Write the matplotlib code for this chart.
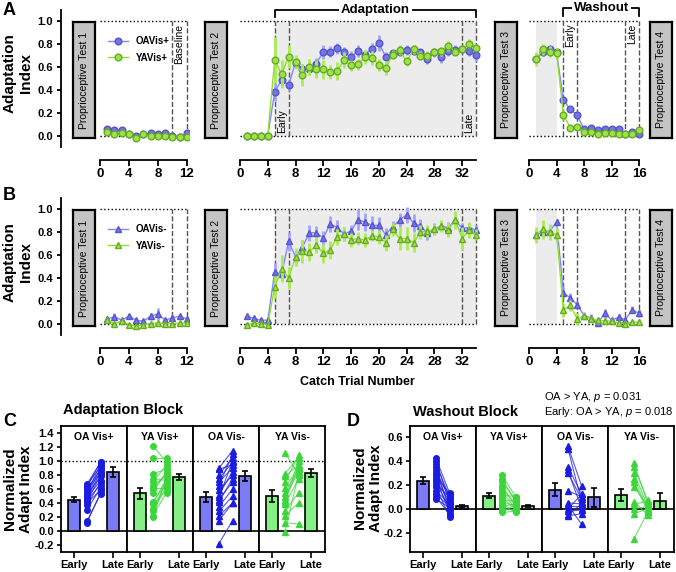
import matplotlib.pyplot as plt
from matplotlib.lines import Line2D

plt.rcParams['font.family'] = ['Liberation Sans', 'DejaVu Sans']
plt.rcParams['font.weight'] = 'bold'
plt.rcParams['mathtext.fontset'] = 'custom'
plt.rcParams['mathtext.it'] = 'Liberation Sans:italic:weight=normal'
plt.rcParams['mathtext.rm'] = 'Liberation Sans:weight=normal'

W, H = 676, 572

# catch trial numbers in each block
base_trials = [1, 2, 3, 4, 5, 6, 7, 8, 9, 10, 11, 12]
adapt_trials = list(range(1, 35))
wash_trials = list(range(1, 17))

# Panel A (Vis+), mean adaptation index and SEM
a_oa_base = [0.06, 0.05, 0.05, 0.01, 0.00, 0.01, 0.02, 0.01, 0.02, 0.00, -0.01, 0.02]
a_oa_base_err = [0.02, 0.01, 0.02, 0.01, 0.01, 0.01, 0.01, 0.01, 0.01, 0.01, 0.01, 0.02]
a_ya_base = [0.03, 0.01, 0.02, 0.01, -0.02, 0.01, 0.00, 0.00, 0.00, -0.01, -0.01, -0.01]
a_ya_base_err = [0.02, 0.01, 0.01, 0.01, 0.01, 0.01, 0.01, 0.01, 0.01, 0.01, 0.01, 0.01]

a_oa_adapt = [0.00, 0.00, 0.00, 0.00, 0.38, 0.49, 0.44, 0.64, 0.58, 0.585, 0.63, 0.735,
              0.735, 0.765, 0.73, 0.69, 0.74, 0.71, 0.76, 0.81, 0.69, 0.72, 0.735, 0.75,
              0.74, 0.73, 0.67, 0.73, 0.69, 0.74, 0.75, 0.755, 0.74, 0.705]
a_oa_adapt_err = [0.01, 0.01, 0.01, 0.01, 0.08, 0.06, 0.05, 0.05, 0.05, 0.05, 0.05, 0.06,
                  0.05, 0.05, 0.05, 0.05, 0.05, 0.04, 0.05, 0.07, 0.04, 0.03, 0.03, 0.04,
                  0.03, 0.03, 0.04, 0.04, 0.05, 0.04, 0.04, 0.03, 0.04, 0.05]
a_ya_adapt = [0.00, 0.00, 0.00, 0.00, 0.66, 0.54, 0.69, 0.645, 0.53, 0.60, 0.585, 0.58,
              0.555, 0.565, 0.66, 0.615, 0.625, 0.69, 0.68, 0.62, 0.595, 0.71, 0.75, 0.65,
              0.755, 0.70, 0.70, 0.735, 0.74, 0.785, 0.735, 0.76, 0.805, 0.77]
a_ya_adapt_err = [0.01, 0.01, 0.01, 0.01, 0.20, 0.12, 0.10, 0.06, 0.10, 0.07, 0.08, 0.08,
                  0.06, 0.08, 0.07, 0.05, 0.05, 0.06, 0.06, 0.05, 0.06, 0.04, 0.04, 0.04,
                  0.04, 0.04, 0.04, 0.03, 0.04, 0.04, 0.03, 0.03, 0.04, 0.03]

a_oa_wash = [0.67, 0.73, 0.755, 0.73, 0.31, 0.23, 0.18, 0.055, 0.065, 0.045, 0.055, 0.055,
             0.055, 0.01, 0.035, 0.015]
a_oa_wash_err = [0.03, 0.03, 0.03, 0.03, 0.03, 0.02, 0.02, 0.02, 0.02, 0.02, 0.02, 0.02,
                 0.02, 0.01, 0.02, 0.02]
a_ya_wash = [0.67, 0.755, 0.735, 0.72, 0.18, 0.07, 0.075, 0.035, 0.035, 0.01, 0.025, 0.02,
             0.015, 0.01, 0.01, 0.045]
a_ya_wash_err = [0.06, 0.05, 0.05, 0.05, 0.04, 0.02, 0.02, 0.02, 0.02, 0.01, 0.01, 0.01,
                 0.01, 0.01, 0.01, 0.02]

# Panel B (Vis-)
b_oa_base = [0.04, 0.06, 0.03, 0.065, 0.03, 0.02, 0.065, 0.085, 0.03, 0.05, 0.065, 0.04]
b_oa_base_err = [0.02, 0.03, 0.02, 0.02, 0.02, 0.02, 0.03, 0.05, 0.02, 0.03, 0.02, 0.02]
b_ya_base = [0.03, 0.00, 0.02, -0.01, -0.02, -0.01, 0.00, 0.005, 0.00, 0.00, 0.005, 0.005]
b_ya_base_err = [0.02, 0.01, 0.01, 0.01, 0.01, 0.01, 0.01, 0.01, 0.01, 0.01, 0.01, 0.01]

b_oa_adapt = [0.065, 0.045, 0.03, 0.03, 0.45, 0.43, 0.72, 0.585, 0.67, 0.795, 0.795, 0.75,
              0.875, 0.84, 0.785, 0.81, 0.91, 0.89, 0.86, 0.86, 0.78, 0.85, 0.905, 0.955,
              0.88, 0.855, 0.795, 0.83, 0.855, 0.84, 0.905, 0.835, 0.84, 0.82]
b_oa_adapt_err = [0.02, 0.02, 0.02, 0.02, 0.08, 0.06, 0.08, 0.06, 0.06, 0.07, 0.06, 0.06,
                  0.07, 0.07, 0.06, 0.05, 0.09, 0.08, 0.08, 0.07, 0.06, 0.05, 0.06, 0.07,
                  0.08, 0.06, 0.06, 0.05, 0.04, 0.05, 0.05, 0.05, 0.04, 0.04]
b_ya_adapt = [-0.01, 0.005, 0.00, -0.01, 0.32, 0.48, 0.40, 0.585, 0.635, 0.63, 0.685, 0.615,
              0.645, 0.76, 0.785, 0.735, 0.745, 0.73, 0.77, 0.76, 0.71, 0.825, 0.745, 0.745,
              0.71, 0.80, 0.81, 0.825, 0.855, 0.82, 0.91, 0.745, 0.82, 0.78]
b_ya_adapt_err = [0.02, 0.02, 0.02, 0.02, 0.10, 0.12, 0.10, 0.08, 0.10, 0.08, 0.07, 0.08,
                  0.08, 0.07, 0.06, 0.06, 0.06, 0.06, 0.05, 0.06, 0.07, 0.06, 0.10, 0.10,
                  0.08, 0.06, 0.05, 0.05, 0.05, 0.06, 0.08, 0.10, 0.07, 0.05]

b_oa_wash = [0.78, 0.80, 0.81, 0.89, 0.27, 0.225, 0.165, 0.07, 0.05, 0.005, 0.09, 0.03,
             0.055, 0.035, 0.12, 0.09]
b_oa_wash_err = [0.04, 0.04, 0.04, 0.03, 0.05, 0.04, 0.03, 0.03, 0.03, 0.02, 0.04, 0.02,
                 0.03, 0.02, 0.03, 0.03]
b_ya_wash = [0.78, 0.825, 0.80, 0.78, 0.12, 0.16, 0.04, 0.07, 0.04, 0.03, 0.025, 0.02,
             0.005, 0.00, 0.01, 0.015]
b_ya_wash_err = [0.07, 0.08, 0.07, 0.06, 0.06, 0.05, 0.05, 0.03, 0.03, 0.03, 0.02, 0.02,
                 0.02, 0.02, 0.02, 0.02]

# Panels C and D
group_names = ['OA Vis+', 'YA Vis+', 'OA Vis-', 'YA Vis-']

c_mean_early = [0.45, 0.54, 0.49, 0.50]
c_mean_late = [0.84, 0.77, 0.79, 0.83]
c_err_early = [0.04, 0.08, 0.07, 0.08]
c_err_late = [0.07, 0.04, 0.07, 0.06]
c_oa_plus_early = [0.67, 0.66, 0.63, 0.60, 0.58, 0.55, 0.52, 0.50, 0.48, 0.46, 0.44, 0.42, 0.40, 0.37, 0.30, 0.14, 0.12]
c_oa_plus_late = [0.98, 0.92, 0.99, 0.88, 0.83, 0.95, 0.78, 0.90, 0.72, 0.85, 0.66, 0.80, 0.58, 0.70, 0.62, 0.53, 0.55]
c_ya_plus_early = [1.22, 1.05, 0.82, 0.75, 0.70, 0.65, 0.62, 0.60, 0.55, 0.42, 0.40, 0.38, 0.32, 0.28, 0.22, 0.20]
c_ya_plus_late = [0.98, 1.05, 0.88, 0.72, 0.95, 0.80, 0.62, 0.82, 0.85, 0.68, 0.75, 0.58, 0.70, 0.65, 0.55, 0.78]
c_oa_minus_early = [0.90, 0.88, 0.80, 0.75, 0.70, 0.65, 0.58, 0.52, 0.48, 0.45, 0.42, 0.35, 0.28, 0.22, 0.15, -0.18]
c_oa_minus_late = [1.15, 0.95, 1.05, 0.98, 0.90, 1.10, 0.80, 0.85, 1.00, 0.70, 0.75, 0.60, 0.50, 0.40, 0.40, 0.15]
c_ya_minus_early = [1.12, 0.82, 0.78, 0.70, 0.62, 0.55, 0.48, 0.45, 0.42, 0.38, 0.28, 0.22, 0.12, -0.02]
c_ya_minus_late = [0.80, 1.05, 0.95, 1.08, 0.90, 0.88, 0.85, 1.00, 0.92, 0.75, 0.55, 0.40, 0.10, 0.82]

d_mean_early = [0.235, 0.11, 0.16, 0.115]
d_mean_late = [0.02, 0.025, 0.095, 0.065]
d_err_early = [0.03, 0.02, 0.055, 0.05]
d_err_late = [0.015, 0.01, 0.08, 0.07]
d_oa_plus_early = [0.42, 0.40, 0.37, 0.35, 0.32, 0.30, 0.28, 0.26, 0.24, 0.22, 0.20, 0.18, 0.15, 0.12, 0.10, 0.08]
d_oa_plus_late = [0.13, 0.05, 0.10, -0.02, 0.08, 0.02, 0.12, -0.04, 0.06, 0.00, 0.10, -0.07, 0.04, 0.02, -0.05, 0.01]
d_ya_plus_early = [0.28, 0.25, 0.22, 0.19, 0.17, 0.15, 0.12, 0.10, 0.08, 0.06, 0.04, 0.02, 0.00, -0.02, -0.03]
d_ya_plus_late = [0.10, 0.06, 0.08, 0.02, 0.04, 0.00, 0.10, -0.01, 0.06, 0.02, -0.03, 0.04, 0.00, 0.03, -0.02]
d_oa_minus_early = [0.52, 0.50, 0.35, 0.32, 0.30, 0.15, 0.05, 0.03, 0.02, 0.00, -0.02, -0.05, -0.06]
d_oa_minus_late = [0.19, 0.06, 0.12, 0.00, 0.08, 0.10, 0.04, -0.13, 0.02, 0.12, -0.01, 0.04, -0.04]
d_ya_minus_early = [0.38, 0.35, 0.30, 0.25, 0.22, 0.18, 0.06, 0.04, 0.00, -0.04, -0.25]
d_ya_minus_late = [0.05, 0.07, 0.02, 0.00, -0.02, 0.03, -0.05, 0.06, 0.02, 0.00, -0.03]

# colours
OA_LINE, OA_FACE, OA_EDGE, OA_ERR = '#8585ff', '#7474e6', '#5656cc', '#a4a4ff'
YA_LINE, YA_FACE, YA_EDGE, YA_ERR = '#8fe02c', '#9be34a', '#6aaa22', '#a8ee50'
OA_BAR, OA_DOT = '#7b7bf5', '#1c1ce0'
YA_BAR, YA_DOT = '#85f085', '#3cd63c'


def px(left, top, width, height):
    return [left / W, 1 - (top + height) / H, width / W, height / H]


fig = plt.figure(figsize=(W / 100, H / 100), dpi=100)


# one block of catch trials (baseline / adaptation / washout)
def trial_segment(left, top, width, xlim, xmax, xticks, show_y):
    ax = fig.add_axes(px(left, top, width, 137))
    ax.set_xlim(xlim)
    ax.set_ylim(-0.1, 1.1)
    ax.patch.set_alpha(0)
    for s in ['top', 'right']:
        ax.spines[s].set_visible(False)
    ax.spines['bottom'].set_position(('outward', 9.4))
    ax.spines['bottom'].set_bounds(0, xmax)
    ax.spines['bottom'].set_linewidth(1.3)
    ax.set_xticks(xticks)
    ax.tick_params(axis='x', labelsize=9.5, width=1.3, length=4, pad=2)
    if show_y:
        ax.spines['left'].set_linewidth(1.3)
        ax.set_yticks([0, 0.2, 0.4, 0.6, 0.8, 1.0])
        ax.set_yticklabels(['0.0', '0.2', '0.4', '0.6', '0.8', '1.0'])
        ax.tick_params(axis='y', labelsize=8, width=1.3, length=3, pad=3)
    else:
        ax.spines['left'].set_visible(False)
        ax.set_yticks([])
    ax.hlines([0, 1], 0, xmax, colors='black', linestyles=':', lw=1, zorder=1)
    return ax


def dashed_box(ax, x0, x1):
    ax.vlines([x0, x1], 0, 1, colors='#555555', linestyles='--', lw=1, zorder=1)


def plot_pair(ax, x, oa, oa_err, ya, ya_err, marker, ms):
    ax.errorbar(x, oa, yerr=oa_err, fmt='-' + marker, color=OA_LINE, mfc=OA_FACE, mec=OA_EDGE,
                ms=ms, lw=1, elinewidth=2, ecolor=OA_ERR, capsize=0, zorder=3)
    ax.errorbar(x, ya, yerr=ya_err, fmt='-' + marker, color=YA_LINE, mfc=YA_FACE, mec=YA_EDGE,
                ms=ms, lw=1, elinewidth=2, ecolor=YA_ERR, capsize=0, zorder=4)


def bracket(ax, x0, x1, y, drop, label):
    ax.plot([x0, x0, x1, x1], [y - drop, y, y, y - drop], color='black', lw=1.3, clip_on=False)
    ax.text((x0 + x1) / 2, y, label, ha='center', va='center', fontsize=9.5,
            bbox=dict(facecolor='white', edgecolor='none', pad=1.5), clip_on=False)


def prop_box(left, top, label):
    bx = fig.add_axes(px(left, top, 22, 116))
    bx.set_facecolor('#c4c4c4')
    bx.set_xticks([])
    bx.set_yticks([])
    for s in bx.spines.values():
        s.set_linewidth(1.6)
    bx.text(0.5, 0.5, label, rotation=90, ha='center', va='center', fontsize=7.5,
            fontweight='normal', transform=bx.transAxes)


def trial_row(top, data, marker, ms, labels, with_text):
    base, base_err, base_ya, base_ya_err = data[0]
    adapt, adapt_err, adapt_ya, adapt_ya_err = data[1]
    wash, wash_err, wash_ya, wash_ya_err = data[2]

    ax1 = trial_segment(61, top, 128, (-5.38, 12.3), 12, [0, 4, 8, 12], True)
    dashed_box(ax1, 10, 12)
    plot_pair(ax1, base_trials, base, base_err, base_ya, base_ya_err, marker, ms)
    handles = [Line2D([], [], color=OA_LINE, marker=marker, mfc=OA_FACE, mec=OA_EDGE, ms=ms, lw=1),
               Line2D([], [], color=YA_LINE, marker=marker, mfc=YA_FACE, mec=YA_EDGE, ms=ms, lw=1)]
    ax1.legend(handles, labels, loc='upper left', bbox_to_anchor=(0.37, 0.81), frameon=False,
               prop={'weight': 'bold', 'size': 7}, handlelength=2.0, borderpad=0,
               borderaxespad=0, labelspacing=0.7, handletextpad=0.8)

    ax2 = trial_segment(236.5, top, 243, (-0.5, 34.5), 34, list(range(0, 33, 4)), False)
    ax2.fill_between([5, 34], 0, 1, color='#ececec', zorder=0, lw=0)
    dashed_box(ax2, 5, 7)
    dashed_box(ax2, 32, 34)
    plot_pair(ax2, adapt_trials, adapt, adapt_err, adapt_ya, adapt_ya_err, marker, ms)

    ax3 = trial_segment(525.6, top, 117, (-0.5, 16.5), 16, [0, 4, 8, 12, 16], False)
    ax3.fill_between([1, 4], 0, 1, color='#ececec', zorder=0, lw=0)
    dashed_box(ax3, 5, 7)
    dashed_box(ax3, 14, 16)
    plot_pair(ax3, wash_trials, wash, wash_err, wash_ya, wash_ya_err, marker, ms)

    if with_text:
        small = dict(rotation=90, ha='center', fontsize=7.5, fontweight='normal', zorder=5)
        ax1.text(11, 0.98, 'Baseline', va='top', **small)
        ax2.text(6, 0.02, 'Early', va='bottom', **small)
        ax2.text(33, 0.02, 'Late', va='bottom', **small)
        ax3.text(6, 0.98, 'Early', va='top', **small)
        ax3.text(15, 0.98, 'Late', va='top', **small)
        bracket(ax2, 5, 34, 1.1, 0.06, 'Adaptation')
        bracket(ax3, 5, 16, 1.12, 0.07, 'Washout')

    box_top = top + 12
    prop_box(73, box_top, 'Proprioceptive Test 1')
    prop_box(205, box_top, 'Proprioceptive Test 2')
    prop_box(495, box_top, 'Proprioceptive Test 3')
    prop_box(650, box_top, 'Proprioceptive Test 4')


# bar + individual early/late values for the four groups
def block_row(left, top, ylim, yticks, ylabels, means, errs, points, dotted):
    for i in range(4):
        is_oa = i % 2 == 0
        bar_col = OA_BAR if is_oa else YA_BAR
        dot_col = OA_DOT if is_oa else YA_DOT
        marker = 'o' if i < 2 else '^'
        ax = fig.add_axes(px(left + i * 66, top, 66, 126))
        ax.set_xlim(-1, 4.08)
        ax.set_ylim(ylim)
        for s in ax.spines.values():
            s.set_linewidth(1.3)
        ax.axhline(0, color='black', lw=1.2, zorder=1)
        if dotted:
            ax.axhline(1.0, color='black', ls=':', lw=1, zorder=1)
        ax.bar([0, 3], [means[0][i], means[1][i]], width=0.9, color=bar_col, edgecolor='black',
               linewidth=1.2, zorder=2)
        ax.errorbar([0, 3], [means[0][i], means[1][i]], yerr=[errs[0][i], errs[1][i]], fmt='none',
                    ecolor='black', elinewidth=1.2, capsize=2.5, capthick=1.2, zorder=3)
        early, late = points[i]
        for e, l in zip(early, late):
            ax.plot([1.0, 2.05], [e, l], color=dot_col, lw=0.8, alpha=0.75, zorder=3)
        ax.plot([1.0] * len(early), early, marker, color=dot_col, ms=4, ls='none', zorder=4)
        ax.plot([2.05] * len(late), late, marker, color=dot_col, ms=4, ls='none', zorder=4)
        ax.set_xticks([0, 3])
        ax.set_xticklabels(['Early', 'Late'])
        ax.tick_params(axis='x', labelsize=8, width=1.2, length=4, pad=2)
        if i == 0:
            ax.set_yticks(yticks)
            ax.set_yticklabels(ylabels)
            ax.tick_params(axis='y', labelsize=8, width=1.2, length=3, pad=2)
        else:
            ax.set_yticks([])
        ax.text(0.5, 0.91, group_names[i], ha='center', va='center', fontsize=7.5,
                transform=ax.transAxes)


trial_row(10,
          [(a_oa_base, a_oa_base_err, a_ya_base, a_ya_base_err),
           (a_oa_adapt, a_oa_adapt_err, a_ya_adapt, a_ya_adapt_err),
           (a_oa_wash, a_oa_wash_err, a_ya_wash, a_ya_wash_err)],
          'o', 4.8, ['OAVis+', 'YAVis+'], True)
trial_row(198,
          [(b_oa_base, b_oa_base_err, b_ya_base, b_ya_base_err),
           (b_oa_adapt, b_oa_adapt_err, b_ya_adapt, b_ya_adapt_err),
           (b_oa_wash, b_oa_wash_err, b_ya_wash, b_ya_wash_err)],
          '^', 4.8, ['OAVis-', 'YAVis-'], False)

block_row(61, 426, (-0.3, 1.5), [-0.2, 0, 0.2, 0.4, 0.6, 0.8, 1.0, 1.2, 1.4],
          ['-0.2', '0.0', '0.2', '0.4', '0.6', '0.8', '1.0', '1.2', '1.4'],
          (c_mean_early, c_mean_late), (c_err_early, c_err_late),
          [(c_oa_plus_early, c_oa_plus_late), (c_ya_plus_early, c_ya_plus_late),
           (c_oa_minus_early, c_oa_minus_late), (c_ya_minus_early, c_ya_minus_late)], True)
block_row(410, 426, (-0.36, 0.69), [-0.2, 0, 0.2, 0.4, 0.6],
          ['-0.2', '0.0', '0.2', '0.4', '0.6'],
          (d_mean_early, d_mean_late), (d_err_early, d_err_late),
          [(d_oa_plus_early, d_oa_plus_late), (d_ya_plus_early, d_ya_plus_late),
           (d_oa_minus_early, d_oa_minus_late), (d_ya_minus_early, d_ya_minus_late)], False)

# figure-level labels
fig.text(3 / W, 1 - 2 / H, 'A', fontsize=13, va='top')
fig.text(3 / W, 1 - 187 / H, 'B', fontsize=13, va='top')
fig.text(3 / W, 1 - 413 / H, 'C', fontsize=13, va='top')
fig.text(347 / W, 1 - 413 / H, 'D', fontsize=13, va='top')

ylab = dict(fontsize=11, rotation=90, ha='center', va='center', multialignment='center')
fig.text(18 / W, 1 - 73 / H, 'Adaptation\nIndex', **ylab)
fig.text(18 / W, 1 - 262 / H, 'Adaptation\nIndex', **ylab)
fig.text(18 / W, 1 - 489 / H, 'Normalized\nAdapt Index', **ylab)
fig.text(368 / W, 1 - 488 / H, 'Normalized\nAdapt Index', **ylab)

fig.text(357 / W, 1 - 382 / H, 'Catch Trial Number', fontsize=9, ha='center', va='center')
fig.text(63 / W, 1 - 410 / H, 'Adaptation Block', fontsize=10.5, va='center')
fig.text(413 / W, 1 - 412 / H, 'Washout Block', fontsize=10.5, va='center')
fig.text(544 / W, 1 - 397 / H, 'OA > YA, $p$ = 0.031', fontsize=8, fontweight='normal', va='center')
fig.text(544 / W, 1 - 412 / H, 'Early: OA > YA, $p$ = 0.018', fontsize=8, fontweight='normal', va='center')

fig.savefig('out.png', dpi=100)
